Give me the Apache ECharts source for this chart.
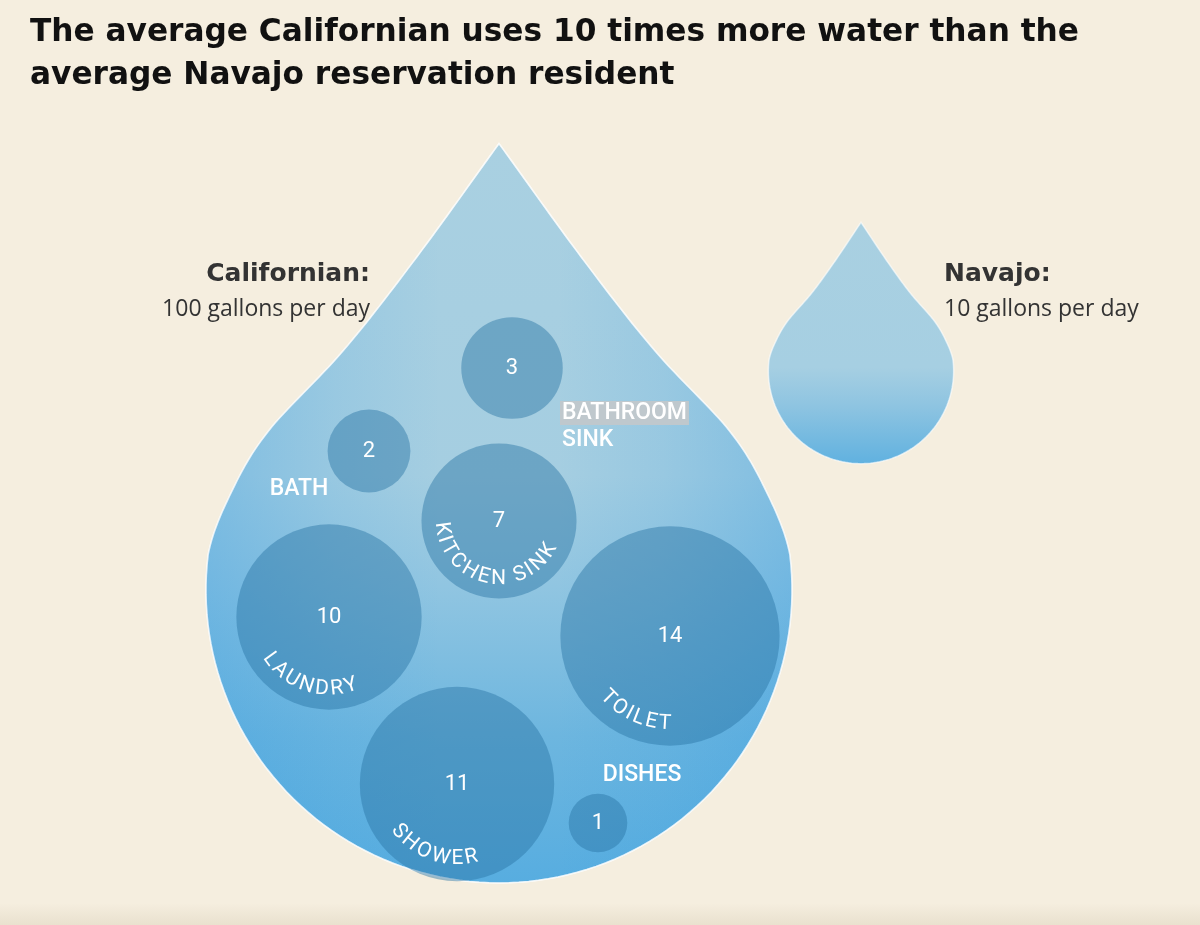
<!DOCTYPE html>
<html>
<head>
<meta charset="utf-8">
<script src="https://cdn.jsdelivr.net/npm/echarts@6/dist/echarts.min.js"></script>
<style>
html,body{margin:0;padding:0;background:#f5eedf;}
#chart{width:1200px;height:925px;}
</style>
</head>
<body>
<div id="chart"></div>
<script>
// ---------------- data ----------------
const titleLines = ['The average Californian uses 10 times more water than the', 'average Navajo reservation resident'];
const people = ['Californian', 'Navajo'];
const dailyGallons = [100, 10];
const useCategories = ['TOILET', 'SHOWER', 'LAUNDRY', 'KITCHEN SINK', 'BATHROOM SINK', 'BATH', 'DISHES'];
const useGallons = [14, 11, 10, 7, 3, 2, 1];

// ---------------- layout (hidden 1200 x 925 plotting space) ----------------
const dropCenters = [[499, 590], [861, 371]];
const dropLabelPos = [{x: 370, y: 274, align: 'right'}, {x: 944, y: 274, align: 'left'}];
const bubbleCenters = [[670, 636], [457, 784], [329, 617], [499, 521], [512, 368], [369, 451], [598, 823]];
const bubbleLabelLayout = [
  {arcDeg: 114.3, rf: 0.80},
  {arcDeg: 109.7, rf: 0.77},
  {arcDeg: 108.0, rf: 0.78},
  {arcDeg: 101.5, rf: 0.745},
  {x: 562, y: 413, align: 'left', highlightFirst: true},
  {x: 299, y: 489, align: 'center'},
  {x: 642, y: 775, align: 'center'}
];
// radius (plot units) per sqrt(gallon): area proportional to gallons
const RADIUS_PER_SQRT_GALLON = 29.3;

// ---------------- styles ----------------
// unit drop outline (left half, tip first), radius 1 bulb centred at 0,0
const DROP_OUTLINE = [[0, -1.56], [-0.28, -1.16], [-0.53, -0.83], [-0.79, -0.54], [-0.92, -0.32]];
const DROP_JOIN_V = -0.12;
const dropTipStretch = [0.966, 1.042];
const dropGradients = [
  [[0, '#a9d0e1'], [0.45, '#a5cee1'], [0.6, '#90c5e1'], [0.8, '#6db6df'], [1, '#57ade0']],
  [[0, '#a9d0e1'], [0.6, '#a6cfe2'], [0.76, '#8ec4e1'], [0.9, '#73b9e0'], [1, '#60b1e0']]
];
const dropSideShade = [0.3, 0];
const BUBBLE_FILL = 'rgba(40,115,165,0.45)';
const mctx = document.createElement('canvas').getContext('2d');

function measure(text, font) { mctx.font = font; return mctx.measureText(text).width; }

function buildDropUnitShape(stretch) {
  const sv = v => (v < -0.5 ? -0.5 + (v + 0.5) * stretch : v);
  const P = DROP_OUTLINE.map(p => [p[0], sv(p[1])]);
  const phiJ = Math.atan2(DROP_JOIN_V, -Math.sqrt(1 - DROP_JOIN_V * DROP_JOIN_V)) + 2 * Math.PI;
  P.push([Math.cos(phiJ), Math.sin(phiJ)]);
  const after = [Math.cos(phiJ - 0.2), Math.sin(phiJ - 0.2)];
  const before = [2 * P[0][0] - P[1][0], 2 * P[0][1] - P[1][1]];
  const Q = [before].concat(P, [after]);
  const left = [];
  for (let i = 1; i < Q.length - 2; i++) {
    const p0 = Q[i - 1], p1 = Q[i], p2 = Q[i + 1], p3 = Q[i + 2];
    for (let k = 0; k < 16; k++) {
      const t = k / 16, t2 = t * t, t3 = t2 * t;
      const f = j => 0.5 * (2 * p1[j] + (-p0[j] + p2[j]) * t + (2 * p0[j] - 5 * p1[j] + 4 * p2[j] - p3[j]) * t2 + (-p0[j] + 3 * p1[j] - 3 * p2[j] + p3[j]) * t3);
      left.push([f(0), f(1)]);
    }
  }
  const arc = [];
  const a0 = phiJ, a1 = Math.PI - phiJ;
  for (let k = 0; k <= 100; k++) {
    const a = a0 + (a1 - a0) * k / 100;
    arc.push([Math.cos(a), Math.sin(a)]);
  }
  const right = left.slice(1).reverse().map(p => [-p[0], p[1]]);
  return left.concat(arc, right);
}

function txt(x, y, text, o) {
  return {
    type: 'text', x: x, y: y, rotation: o.rotation || 0, silent: true,
    style: {
      text: text, fill: o.fill || '#fff',
      fontSize: o.fontSize, fontFamily: o.fontFamily, fontWeight: o.fontWeight || 'normal',
      align: o.align || 'center', textAlign: o.align || 'center',
      verticalAlign: 'middle', textVerticalAlign: 'middle',
      backgroundColor: o.backgroundColor, padding: o.padding
    }
  };
}

function arcLetters(text, cx, cy, R, centerDeg, fontSize, spacing) {
  const font = '400 ' + fontSize + 'px Roboto';
  const chars = Array.from(text);
  const widths = chars.map(ch => measure(ch, font));
  const total = widths.reduce((a, b) => a + b, 0) + spacing * (chars.length - 1);
  const out = [];
  let s = 0;
  chars.forEach((ch, i) => {
    const mid = s + widths[i] / 2;
    const a = centerDeg * Math.PI / 180 + (total / 2 - mid) / R;
    if (ch !== ' ') {
      out.push(txt(cx + R * Math.cos(a), cy + R * Math.sin(a), ch,
        {fontSize: fontSize, fontFamily: 'Roboto', rotation: Math.PI / 2 - a}));
    }
    s += widths[i] + spacing;
  });
  return out;
}

// ---------------- chart ----------------
const chart = echarts.init(document.getElementById('chart'), null, {width: 1200, height: 925});

const TITLE_FAMILY = '"DejaVu Sans Condensed", "DejaVu Sans", sans-serif';
const TITLE_FONT = 'bold 32px ' + TITLE_FAMILY;
const titleScale = 1049 / measure(titleLines[0], TITLE_FONT);

const dropData = people.map((p, i) => [dropCenters[i][0], dropCenters[i][1], dailyGallons[i], i]);
const bubbleData = useGallons.map((g, i) => [bubbleCenters[i][0], bubbleCenters[i][1], g, i]);

function shade(a) { return 'rgba(40,150,225,' + a + ')'; }

const option = {
  backgroundColor: '#f5eedf',
  animation: false,
  grid: {left: 0, right: 0, top: 0, bottom: 0, containLabel: false},
  xAxis: {type: 'value', min: 0, max: 1200, show: false},
  yAxis: {type: 'value', min: 0, max: 925, inverse: true, show: false},
  graphic: [
    {
      type: 'rect', silent: true, z: 0, shape: {x: 0, y: 903, width: 1200, height: 22},
      style: {fill: {type: 'linear', x: 0, y: 0, x2: 0, y2: 1, colorStops: [{offset: 0, color: 'rgba(180,165,130,0)'}, {offset: 1, color: 'rgba(180,165,130,0.18)'}]}}
    }
  ].concat(titleLines.map((t, i) => ({
    type: 'text', x: 30, y: 33 + i * 43, scaleX: titleScale, silent: true, z: 10,
    style: {
      text: t, fill: '#111', fontSize: 32, fontWeight: 'bold', fontFamily: TITLE_FAMILY,
      align: 'left', textAlign: 'left', verticalAlign: 'middle', textVerticalAlign: 'middle'
    }
  }))),
  series: [
    {
      type: 'custom',
      name: 'Daily use per person',
      coordinateSystem: 'cartesian2d',
      silent: true,
      clip: false,
      encode: {x: 0, y: 1},
      data: dropData,
      renderItem: function (params, api) {
        const i = api.value(3);
        const c = api.coord([api.value(0), api.value(1)]);
        const r = api.size([RADIUS_PER_SQRT_GALLON * Math.sqrt(api.value(2)), 0])[0];
        const pts = buildDropUnitShape(dropTipStretch[i]).map(p => [c[0] + p[0] * r, c[1] + p[1] * r]);
        const lp = api.coord([dropLabelPos[i].x, dropLabelPos[i].y]);
        const sa = dropSideShade[i];
        const children = [
          {
            type: 'polygon', shape: {points: pts},
            style: {
              fill: {type: 'linear', x: 0, y: 0, x2: 0, y2: 1,
                colorStops: dropGradients[i].map(s => ({offset: s[0], color: s[1]}))},
              stroke: 'rgba(255,255,255,0.6)', lineWidth: 1.5
            }
          }
        ];
        if (sa > 0) {
          children.push({
            type: 'polygon', shape: {points: pts},
            style: {
              fill: {type: 'linear', x: 0, y: 0, x2: 1, y2: 0, colorStops: [
                {offset: 0, color: shade(sa)}, {offset: 0.22, color: shade(sa * 0.35)},
                {offset: 0.4, color: shade(0)}, {offset: 0.6, color: shade(0)},
                {offset: 0.78, color: shade(sa * 0.35)}, {offset: 1, color: shade(sa)}]},
              stroke: 'rgba(255,255,255,0.6)', lineWidth: 1.5
            }
          });
        }
        children.push(
          txt(lp[0], lp[1], people[i] + ':', {fill: '#333', fontSize: 25, fontWeight: 'bold', fontFamily: '"DejaVu Sans", sans-serif', align: dropLabelPos[i].align}),
          txt(lp[0], lp[1] + 35, api.value(2) + ' gallons per day', {fill: '#333', fontSize: 23, fontWeight: 400, fontFamily: '"Open Sans", sans-serif', align: dropLabelPos[i].align})
        );
        return {type: 'group', children: children};
      }
    },
    {
      type: 'custom',
      name: 'Use by category',
      coordinateSystem: 'cartesian2d',
      silent: true,
      clip: false,
      encode: {x: 0, y: 1},
      data: bubbleData,
      renderItem: function (params, api) {
        const i = api.value(3);
        const g = api.value(2);
        const c = api.coord([api.value(0), api.value(1)]);
        const r = api.size([RADIUS_PER_SQRT_GALLON * Math.sqrt(g), 0])[0];
        const L = bubbleLabelLayout[i];
        const children = [
          {type: 'circle', shape: {cx: c[0], cy: c[1], r: r}, style: {fill: BUBBLE_FILL}},
          txt(c[0], c[1], String(g), {fontSize: 22, fontFamily: 'Roboto'})
        ];
        if (L.arcDeg !== undefined) {
          arcLetters(useCategories[i], c[0], c[1], r * L.rf, L.arcDeg, 21, 1.6).forEach(e => children.push(e));
        } else {
          const p = api.coord([L.x, L.y]);
          const words = useCategories[i].split(' ');
          words.forEach((w, k) => {
            const o = {fontSize: 23, fontWeight: 500, fontFamily: 'Roboto', align: L.align};
            if (L.highlightFirst && k === 0) { o.backgroundColor = '#bfc8cd'; o.padding = [1, 2, 0, 2]; }
            children.push(txt(p[0] - (o.padding ? 2 : 0), p[1] + k * 27, w, o));
          });
        }
        return {type: 'group', children: children};
      }
    }
  ]
};
chart.setOption(option);
</script>
</body>
</html>
